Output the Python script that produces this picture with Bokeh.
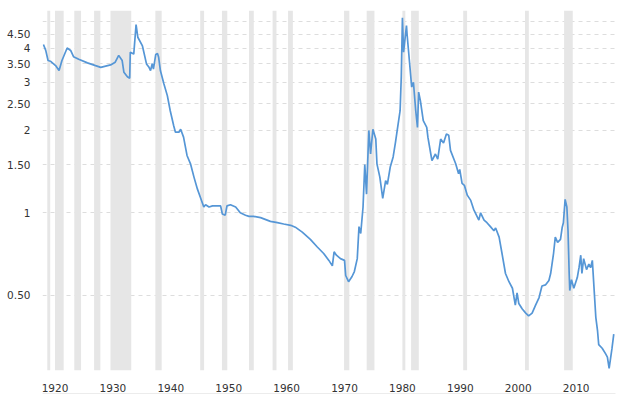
from bokeh.plotting import figure
from bokeh.models import Range1d, FixedTicker, LinearAxis
from bokeh.embed import file_html
from bokeh.resources import INLINE

# ---- data ----
years = [1918.0, 1918.4, 1918.8, 1919.2, 1920.1, 1920.7, 1921.2, 1922.1, 1922.7, 1923.2,
         1924.1, 1925.6, 1927.0, 1927.9, 1929.6, 1930.4, 1931.0, 1931.6, 1931.9, 1932.5,
         1932.9, 1933.0, 1933.6, 1934.0, 1934.3, 1935.1, 1935.8, 1936.2, 1936.5, 1936.8,
         1937.0, 1937.4, 1937.7, 1937.9, 1938.2, 1938.8, 1939.4, 1939.9, 1940.5, 1940.8,
         1941.4, 1941.7, 1942.2, 1942.8, 1943.4, 1944.0, 1944.6, 1945.1, 1945.7, 1946.0,
         1946.6, 1947.2, 1948.0, 1948.6, 1948.9, 1949.4, 1949.7, 1950.3, 1951.2, 1952.0,
         1952.9, 1953.5, 1954.3, 1955.5, 1957.2, 1958.4, 1959.5, 1960.7, 1961.5, 1962.7,
         1964.1, 1965.3, 1966.4, 1967.3, 1967.9, 1968.2, 1968.6, 1969.3, 1970.0, 1970.2,
         1970.7, 1971.3, 1971.7, 1972.2, 1972.5, 1972.8, 1973.2, 1973.5, 1973.8, 1974.2,
         1974.5, 1974.9, 1975.4, 1975.6, 1976.1, 1976.6, 1977.1, 1977.4, 1977.9, 1978.4,
         1978.8, 1979.1, 1979.6, 1979.8, 1980.0, 1980.2, 1980.7, 1980.8, 1981.2, 1981.6,
         1981.9, 1982.3, 1982.6, 1982.8, 1983.1, 1983.6, 1984.2, 1984.4, 1984.9, 1985.1,
         1985.7, 1986.1, 1986.6, 1987.1, 1987.6, 1988.0, 1988.3, 1989.2, 1989.7, 1989.9,
         1990.3, 1990.7, 1991.2, 1991.8, 1992.3, 1993.2, 1993.5, 1994.1, 1994.6, 1995.2,
         1995.8, 1996.1, 1996.7, 1997.2, 1997.8, 1998.4, 1999.0, 1999.5, 1999.8, 2000.1,
         2000.7, 2001.3, 2001.8, 2002.4, 2003.0, 2003.6, 2004.1, 2004.7, 2005.3, 2005.6,
         2006.1, 2006.4, 2006.8, 2007.3, 2007.6, 2007.8, 2008.1, 2008.4, 2008.6, 2008.8,
         2008.9, 2009.2, 2009.6, 2010.2, 2010.5, 2010.8, 2011.0, 2011.3, 2011.8, 2012.2,
         2012.5, 2012.8, 2013.4, 2013.7, 2013.9, 2014.5, 2015.1, 2015.4, 2015.7, 2016.2,
         2016.5]
ratio = [4.12, 3.92, 3.60, 3.58, 3.45, 3.31, 3.60, 4.00, 3.92, 3.72,
         3.64, 3.53, 3.45, 3.40, 3.47, 3.55, 3.76, 3.60, 3.26, 3.14,
         3.10, 3.86, 3.80, 4.87, 4.38, 4.07, 3.50, 3.41, 3.31, 3.51,
         3.35, 3.79, 3.82, 3.70, 3.31, 2.96, 2.68, 2.36, 2.08, 1.97,
         1.97, 2.02, 1.89, 1.62, 1.51, 1.35, 1.22, 1.14, 1.05, 1.07,
         1.05, 1.06, 1.06, 1.06, 0.99, 0.98, 1.06, 1.07, 1.05, 1.00,
         0.98, 0.97, 0.97, 0.96, 0.93, 0.92, 0.91, 0.90, 0.886, 0.85,
         0.80, 0.75, 0.71, 0.67, 0.64, 0.72, 0.70, 0.68, 0.67, 0.59,
         0.56, 0.585, 0.61, 0.68, 0.89, 0.84, 1.05, 1.50, 1.17, 2.00,
         1.64, 2.02, 1.86, 1.51, 1.35, 1.13, 1.31, 1.27, 1.47, 1.60,
         1.81, 2.00, 2.36, 3.13, 5.16, 3.86, 4.83, 4.50, 3.60, 2.88,
         3.00, 2.36, 2.05, 2.76, 2.57, 2.17, 2.05, 1.89, 1.64, 1.55,
         1.64, 1.57, 1.86, 1.80, 1.94, 1.92, 1.69, 1.51, 1.39, 1.44,
         1.28, 1.26, 1.16, 1.11, 1.03, 0.94, 1.00, 0.94, 0.92, 0.89,
         0.86, 0.88, 0.815, 0.71, 0.60, 0.56, 0.53, 0.46, 0.51, 0.466,
         0.445, 0.43, 0.42, 0.43, 0.46, 0.49, 0.54, 0.545, 0.566, 0.60,
         0.71, 0.815, 0.78, 0.80, 0.886, 0.92, 1.12, 1.05, 0.86, 0.60,
         0.52, 0.57, 0.53, 0.58, 0.63, 0.70, 0.60, 0.68, 0.62, 0.65,
         0.63, 0.67, 0.415, 0.37, 0.33, 0.32, 0.305, 0.297, 0.27, 0.32,
         0.36]

recession_start = [1918.67, 1920.0, 1923.33, 1926.75, 1929.58, 1937.33, 1945.08, 1948.83,
                   1953.5, 1957.58, 1960.25, 1969.92, 1973.83, 1980.0, 1981.5, 1990.5,
                   2001.17, 2007.92]
recession_end = [1919.17, 1921.5, 1924.5, 1927.83, 1933.17, 1938.42, 1945.75, 1949.75,
                 1954.33, 1958.25, 1961.08, 1970.83, 1975.17, 1980.5, 1982.83, 1991.17,
                 2001.83, 2009.42]

x_ticks = [1920, 1930, 1940, 1950, 1960, 1970, 1980, 1990, 2000, 2010]
y_ticks = [0.5, 1, 1.5, 2, 2.5, 3, 3.5, 4, 4.5, 5]
y_tick_labels = ["0.50", "1", "1.50", "2", "2.50", "3", "3.50", "4", "4.50", ""]

Y_MIN, Y_MAX = 0.2653, 5.485
X_MIN, X_MAX = 1917.84, 2016.8

p = figure(frame_width=573, frame_height=360, y_axis_type="log",
           x_range=Range1d(X_MIN, X_MAX), y_range=Range1d(Y_MIN, Y_MAX),
           output_backend="svg", toolbar_location=None, x_axis_location=None,
           min_border_left=42, min_border_right=5, min_border_top=10, min_border_bottom=0)
p.outline_line_color = None
p.background_fill_color = "white"

# recession bands
p.quad(left=recession_start, right=recession_end,
       bottom=[Y_MIN] * len(recession_start), top=[Y_MAX] * len(recession_start),
       fill_color="#e6e6e6", line_color=None)

p.line(years, ratio, line_color="#5596d6", line_width=1.7)

# grid
p.xgrid.visible = False
p.ygrid.ticker = FixedTicker(ticks=y_ticks)
p.ygrid.grid_line_color = "#dddddd"
p.ygrid.grid_line_dash = "4 4"
p.ygrid.grid_line_width = 1

# y axis
ya = p.yaxis[0]
ya.ticker = FixedTicker(ticks=y_ticks)
ya.major_label_overrides = {t: l for t, l in zip(y_ticks, y_tick_labels)}
ya.axis_line_color = None
ya.major_tick_line_color = None
ya.minor_tick_line_color = None
ya.major_label_standoff = 6
ya.major_label_text_font = "DejaVu Sans"
ya.major_label_text_font_size = "10.5px"
ya.major_label_text_color = "#333333"

# x axis
xa = LinearAxis(ticker=FixedTicker(ticks=x_ticks))
xa.axis_line_color = None
xa.major_tick_line_color = None
xa.minor_tick_line_color = None
xa.major_label_standoff = 7
xa.major_label_text_font = "DejaVu Sans"
xa.major_label_text_font_size = "10.5px"
xa.major_label_text_color = "#333333"
p.add_layout(xa, "below")

# thin base line beneath the labels
xb = LinearAxis(ticker=FixedTicker(ticks=[]))
xb.axis_line_color = "#d9d9d9"
xb.axis_line_width = 2
xb.major_tick_line_color = None
xb.minor_tick_line_color = None
xb.major_label_text_font_size = "0px"
p.add_layout(xb, "below")

open("out.html", "w").write(file_html(p, INLINE))
